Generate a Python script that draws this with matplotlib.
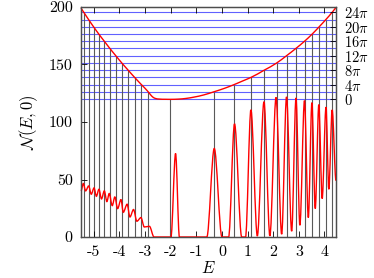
import numpy as np
import matplotlib
matplotlib.use('Agg')
import matplotlib.pyplot as plt
from matplotlib.path import Path
from matplotlib.patches import PathPatch

plt.rcParams['mathtext.fontset'] = 'cm'
plt.rcParams['font.family'] = ['DejaVu Serif']
plt.rcParams['axes.unicode_minus'] = False

# ---------------- data ----------------
# resonance energies (phase = 2*pi*k) and their k
res_E = [-5.392, -5.205, -5.01, -4.807, -4.593, -4.375, -4.145, -3.907, -3.662,
         -3.409, -3.148, -2.879, -2.02, -0.308, 0.483, 1.134, 1.652, 2.135,
         2.524, 2.887, 3.226, 3.522, 3.794, 4.055, 4.301]
res_k = [12, 11, 10, 9, 8, 7, 6, 5, 4, 3, 2, 1, 0, 1, 2, 3, 4, 5, 6, 7, 8, 9,
         10, 11, 12]

# phase curve (offset 120) sample points
phase_E = [-5.50, -5.392, -5.205, -5.01, -4.807, -4.593, -4.375, -4.145,
           -3.907, -3.662, -3.409, -3.148, -2.879, -2.79, -2.70, -2.60, -2.45,
           -2.20, -2.02, -1.70, -1.40, -1.10, -0.70, -0.308, 0.10, 0.483, 0.82,
           1.134, 1.652, 2.135, 2.524, 2.887, 3.226, 3.522, 3.794, 4.055, 4.301,
           4.45]
phase_N = [199.0, 195.4, 189.1, 182.8, 176.5, 170.3, 164.0, 157.7,
           151.3, 145.1, 138.8, 132.6, 126.3, 123.8, 121.7, 120.5, 119.95,
           119.75, 119.7, 119.9, 120.5, 121.6, 123.6, 126.3, 129.3, 132.6, 135.8,
           138.8, 145.1, 151.3, 157.7, 164.0, 170.3, 176.5, 182.8, 189.1, 195.4,
           199.6]

# N(E,0): successive extrema (peaks / troughs / edges of zero plateaus)
ext_E = [-5.50, -5.41, -5.32, -5.20, -5.10, -4.99, -4.90, -4.80, -4.70, -4.59,
         -4.49, -4.40, -4.28, -4.18, -4.07, -3.94, -3.85, -3.70, -3.59, -3.45,
         -3.32, -3.16, -3.03, -2.83, -2.65, -1.99, -1.81, -1.66, -0.59, -0.30,
         0.00, 0.26, 0.49, 0.77, 0.92, 1.13, 1.38, 1.64, 1.87, 2.11, 2.33, 2.52,
         2.72, 2.89, 3.04, 3.22, 3.37, 3.51, 3.64, 3.78, 3.91, 4.06, 4.17, 4.30,
         4.45]
ext_N = [40.0, 46.5, 40.1, 44.4, 37.2, 42.7, 35.4, 41.5, 33.1, 40.1,
         30.8, 37.8, 27.3, 34.8, 24.7, 32.6, 21.5, 28.5, 17.4, 23.9,
         13.7, 16.9, 8.7, 9.3, 0.0, 0.0, 72.6, 0.0, 0.0, 77.0,
         0.0, 0.0, 98.4, 0.0, 0.0, 110.6, 0.9, 117.6, 0.9, 121.4, 2.4, 121.9,
         5.0, 121.0, 10.2, 118.6, 16.9, 116.8, 24.7, 115.1, 33.4, 113.0, 41.5,
         110.6, 49.0]

xticks = [-5, -4, -3, -2, -1, 0, 1, 2, 3, 4]
yticks = [0, 50, 100, 150, 200]
phase_ticks_k = [0, 4, 8, 12, 16, 20, 24]
phase_ticklabels = ['$0$', r'$4\pi$', r'$8\pi$', r'$12\pi$', r'$16\pi$',
                    r'$20\pi$', r'$24\pi$']
offset = 120.0


def hermite_path(xs, ys, slopes):
    verts = [(xs[0], ys[0])]
    codes = [Path.MOVETO]
    for i in range(len(xs) - 1):
        d = (xs[i + 1] - xs[i]) / 3.0
        verts += [(xs[i] + d, ys[i] + slopes[i] * d),
                  (xs[i + 1] - d, ys[i + 1] - slopes[i + 1] * d),
                  (xs[i + 1], ys[i + 1])]
        codes += [Path.CURVE4] * 3
    return Path(verts, codes)


fig = plt.figure(figsize=(3.74, 2.78), dpi=100)
ax = fig.add_axes([81 / 374, 41 / 278, 255 / 374, 230 / 278])
ax.set_xlim(-5.5, 4.45)
ax.set_ylim(0, 200)

# blue phase levels
for k in range(0, 13):
    ax.axhline(offset + 2 * np.pi * k, color=(0.38, 0.38, 1.0), lw=0.8,
               zorder=1)

# resonance verticals
ax.vlines(res_E, 0, [offset + 2 * np.pi * k for k in res_k],
          colors='0.35', lw=0.8, zorder=1.5)

# phase curve
pE = np.array(phase_E)
pN = np.array(phase_N)
pslope = np.gradient(pN, pE)
ax.add_patch(PathPatch(hermite_path(pE, pN, pslope), fill=False,
                       edgecolor='red', lw=1.0, zorder=3, clip_on=False))

# N(E,0)
ax.add_patch(PathPatch(hermite_path(ext_E, ext_N, [0.0] * len(ext_E)),
                       fill=False, edgecolor='red', lw=1.0, zorder=3,
                       clip_on=False))

ax.set_xticks(xticks)
ax.set_xticklabels(['%d' % v for v in xticks], fontfamily='cmr10')
ax.set_yticks(yticks)
ax.set_yticklabels(['%d' % v for v in yticks], fontfamily='cmr10')
ax.tick_params(direction='in', length=4, width=0.6, top=True, right=False,
               labelsize=11.5, pad=6)
for s in ax.spines.values():
    s.set_linewidth(0.9)
    s.set_color('0.3')

ax2 = ax.twinx()
ax2.set_ylim(0, 200)
ax2.set_yticks([offset + np.pi * k for k in phase_ticks_k])
ax2.set_yticklabels(phase_ticklabels)
ax2.tick_params(direction='in', length=4, width=0.6, labelsize=10.5, pad=6)
for s in ax2.spines.values():
    s.set_linewidth(0.9)
    s.set_color('0.3')

ax.set_xlabel('$E$', fontsize=12, labelpad=1)
ax.set_ylabel(r'$\mathcal{N}(E,0)$', fontsize=12, labelpad=6)

fig.savefig('out.png', dpi=100)
